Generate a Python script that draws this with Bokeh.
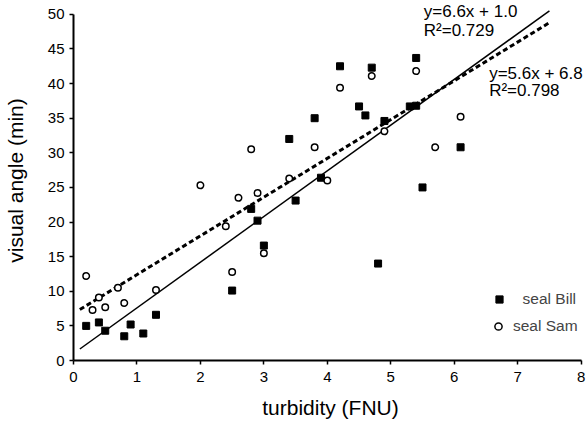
from bokeh.plotting import figure
from bokeh.models import Range1d, Label, Legend, LegendItem, SingleIntervalTicker
from bokeh.embed import file_html
from bokeh.resources import INLINE

# --- data ---
bill_x = [0.2, 0.4, 0.5, 0.8, 0.9, 1.1, 1.3, 2.5, 2.8, 2.9, 3.0, 3.4, 3.5, 3.8, 3.9,
          4.2, 4.5, 4.6, 4.7, 4.8, 4.9, 5.3, 5.4, 5.4, 5.5, 6.1]
bill_y = [5.0, 5.5, 4.3, 3.5, 5.2, 3.9, 6.6, 10.1, 21.9, 20.2, 16.6, 32.0, 23.1, 35.0, 26.4,
          42.5, 36.7, 35.4, 42.3, 14.0, 34.6, 36.7, 36.8, 43.7, 25.0, 30.8]

sam_x = [0.2, 0.3, 0.4, 0.5, 0.7, 0.8, 1.3, 2.0, 2.4, 2.5, 2.6, 2.8, 2.9, 3.0, 3.4,
         3.8, 4.0, 4.2, 4.7, 4.9, 5.4, 5.7, 6.1]
sam_y = [12.2, 7.3, 9.1, 7.7, 10.5, 8.3, 10.2, 25.3, 19.4, 12.8, 23.5, 30.5, 24.2, 15.5, 26.3,
         30.8, 26.0, 39.4, 41.1, 33.1, 41.8, 30.8, 35.2]

bill_fit = (6.6, 1.0)   # slope, intercept
sam_fit = (5.6, 6.8)
fit_x = [0.1, 7.5]
bill_eq = ["y=6.6x + 1.0", "R\u00b2=0.729"]
sam_eq = ["y=5.6x + 6.8", "R\u00b2=0.798"]
series_names = ["\u00a0\u00a0seal Bill", "seal Sam"]

FONT = "Liberation Sans"

p = figure(width=587, height=421, output_backend="svg", toolbar_location=None,
           x_range=Range1d(0, 8.1), y_range=Range1d(0, 52.0),
           min_border_left=72, min_border_right=0, min_border_top=0, min_border_bottom=61)
p.xgrid.visible = False
p.ygrid.visible = False
p.outline_line_color = None
p.background_fill_color = "white"
p.border_fill_color = "white"

p.xaxis.ticker = SingleIntervalTicker(interval=1, num_minor_ticks=0)
p.yaxis.ticker = SingleIntervalTicker(interval=5, num_minor_ticks=0)
p.xaxis.bounds = (0, 8)
p.yaxis.bounds = (0, 50)
p.xaxis.axis_label = "turbidity (FNU)"
p.yaxis.axis_label = "visual angle (min)"
for ax in p.axis:
    ax.axis_line_color = "black"
    ax.axis_line_width = 2
    ax.major_tick_line_color = "black"
    ax.major_tick_line_width = 1.5
    ax.major_tick_out = 4
    ax.major_tick_in = 0
    ax.minor_tick_line_color = None
    ax.major_label_text_font = FONT
    ax.major_label_text_font_size = "15px"
    ax.major_label_text_color = "black"
    ax.axis_label_text_font = FONT
    ax.axis_label_text_font_size = "21px"
    ax.axis_label_text_font_style = "normal"
    ax.axis_label_text_color = "black"
p.xaxis.major_label_standoff = 7
p.yaxis.major_label_standoff = 5
p.xaxis.axis_label_standoff = 11
p.yaxis.axis_label_standoff = 18

# trend lines
p.line(fit_x, [bill_fit[0] * x + bill_fit[1] for x in fit_x], line_color="black", line_width=1.5)
p.line(fit_x, [sam_fit[0] * x + sam_fit[1] for x in fit_x], line_color="black", line_width=3,
       line_dash="5 3")

r_bill = p.scatter(bill_x, bill_y, marker="square", size=7, fill_color="black", line_color="black")
r_sam = p.scatter(sam_x, sam_y, marker="circle", size=6.5, fill_color="white",
                  line_color="black", line_width=1.5)

# equations
for txt, yy in zip(bill_eq, [50.35, 47.7]):
    p.add_layout(Label(x=5.52, y=yy, text=txt, text_font=FONT, text_font_size="17px",
                       text_baseline="middle", text_align="left", text_color="black"))
for txt, yy in zip(sam_eq, [41.5, 39.0]):
    p.add_layout(Label(x=6.55, y=yy, text=txt, text_font=FONT, text_font_size="17px",
                       text_baseline="middle", text_align="left", text_color="black"))

common = dict(padding=0, margin=0, glyph_width=18, glyph_height=18, label_height=18,
              label_standoff=6, border_line_color=None, background_fill_alpha=0,
              label_text_font=FONT, label_text_font_size="15.5px")
p.add_layout(Legend(items=[LegendItem(label=series_names[0], renderers=[r_bill])],
                    location=(417, 52), **common))
p.add_layout(Legend(items=[LegendItem(label=series_names[1], renderers=[r_sam])],
                    location=(416, 25), **common))

open("out.html", "w").write(file_html(p, INLINE))
